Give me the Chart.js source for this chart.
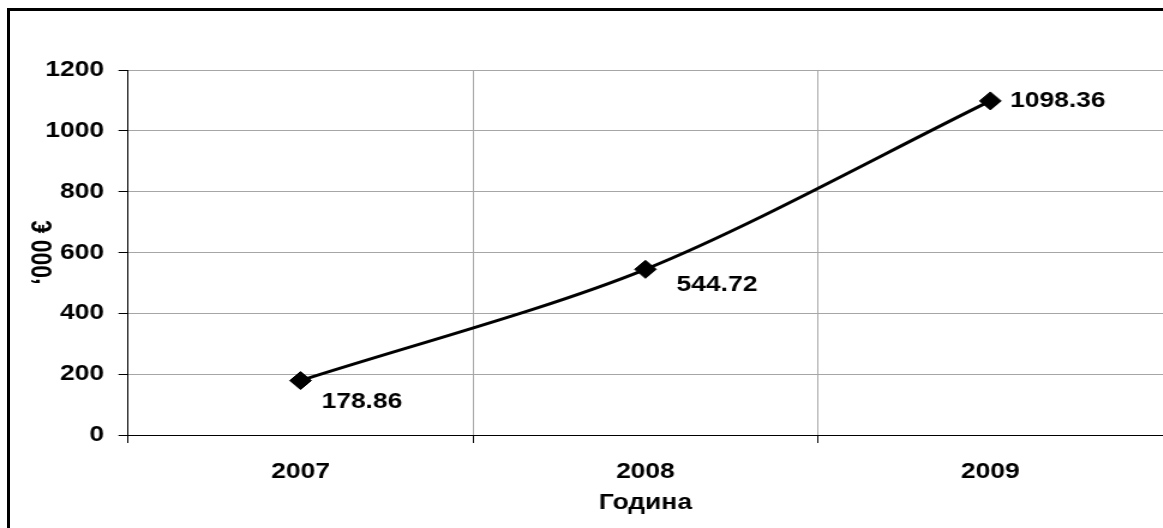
<!DOCTYPE html>
<html>
<head>
<meta charset="utf-8">
<script src="https://cdn.jsdelivr.net/npm/chart.js@4"></script>
<style>
  html, body { margin: 0; padding: 0; background: #fff; overflow: hidden; }
  #wrap { position: absolute; left: 0; top: 0; width: 969px; height: 528px; transform: scaleX(1.2); transform-origin: 0 0; }
  #frame { position: absolute; left: 7px; top: 8px; width: 1300px; height: 700px; border-top: 3px solid #000; border-left: 3px solid #000; pointer-events: none; }
</style>
</head>
<body>
<div id="wrap"><canvas id="chartRevenue"></canvas></div>
<div id="frame"></div>
<script>
// data
const years = ["2007", "2008", "2009"];
const revenue = [178.86, 544.72, 1098.36];
const yTicks = [0, 200, 400, 600, 800, 1000, 1200];

const font = { family: '"Liberation Sans", Arial, sans-serif', size: 22, weight: "bold" };

// label offsets next to each point (x, y)
const labelOffsets = [[17.5, 21], [26, 16], [16.5, 0]];

const pointLabels = {
  id: "pointLabels",
  afterDatasetsDraw(chart) {
    const ctx = chart.ctx;
    const meta = chart.getDatasetMeta(0);
    ctx.save();
    ctx.font = 'bold 22px "Liberation Sans", Arial, sans-serif';
    ctx.fillStyle = "#000";
    ctx.textAlign = "left";
    ctx.textBaseline = "middle";
    meta.data.forEach((pt, i) => {
      ctx.fillText(revenue[i].toFixed(2), pt.x + labelOffsets[i][0], pt.y + labelOffsets[i][1]);
    });
    ctx.restore();
  },
};

const chartRevenue = document.getElementById("chartRevenue");
new Chart(chartRevenue, {
  type: "line",
  data: {
    labels: years,
    datasets: [
      {
        data: revenue,
        borderColor: "#000",
        borderWidth: 3,
        tension: 0.3,
        pointStyle: "rectRot",
        pointRadius: 9,
        pointBackgroundColor: "#000",
        pointBorderColor: "#000",
        pointBorderWidth: 1,
      },
    ],
  },
  options: {
    responsive: true,
    maintainAspectRatio: false,
    animation: false,
    layout: { autoPadding: false, padding: { top: 70, right: 0, left: 0, bottom: 0 } },
    plugins: { legend: { display: false }, tooltip: { enabled: false } },
    scales: {
      x: {
        offset: true,
        grid: {
          offset: true,
          color: (c) => (c.index === 3 ? "transparent" : "#a6a6a6"),
          tickColor: (c) => (c.index === 3 ? "transparent" : "#000"),
          tickLength: 8,
        },
        border: { color: "#000", width: 1 },
        ticks: { color: "#000", font: font, padding: 16 },
        title: { display: true, text: "Година", color: "#000", font: font, padding: { top: 0, bottom: 12 } },
        afterFit: (scale) => {
          scale.height = 93;
          scale.paddingLeft = 0;
          scale.paddingRight = 0;
        },
      },
      y: {
        min: 0,
        max: 1200,
        afterBuildTicks: (scale) => { scale.ticks = yTicks.map((v) => ({ value: v })); },
        grid: { color: "#a6a6a6", tickColor: "#000", tickLength: 8 },
        border: { color: "#000", width: 1 },
        ticks: { color: "#000", font: font, padding: 12, callback: (v) => String(v) },
        title: {
          display: true,
          text: "‘000 €",
          color: "#000",
          font: { family: font.family, size: 23, weight: "bold" },
          padding: { top: 23, bottom: 0 },
        },
        afterFit: (scale) => { scale.width = 106.7; },
      },
    },
  },
  plugins: [pointLabels],
});
</script>
</body>
</html>
